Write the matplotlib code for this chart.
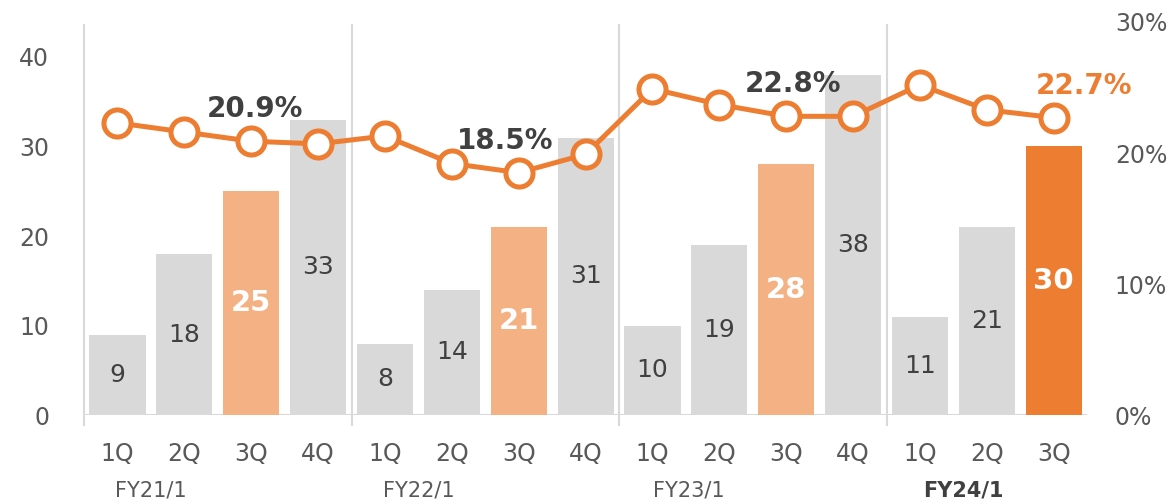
import matplotlib
matplotlib.use("Agg")
import matplotlib.pyplot as plt
import numpy as np

# Quarterly values (bars, left axis) and margin (line, right axis, %)
quarters = ["1Q", "2Q", "3Q", "4Q", "1Q", "2Q", "3Q", "4Q",
            "1Q", "2Q", "3Q", "4Q", "1Q", "2Q", "3Q"]
fiscal_years = ["FY21/1", "FY22/1", "FY23/1", "FY24/1"]
bar_values = [9, 18, 25, 33, 8, 14, 21, 31, 10, 19, 28, 38, 11, 21, 30]
margin_pct = [22.3, 21.6, 20.9, 20.7, 21.3, 19.2, 18.5, 19.9,
              24.9, 23.7, 22.8, 22.8, 25.2, 23.3, 22.7]
labeled_idx = [2, 6, 10, 14]
label_shift = [0.05, -0.2, 0.1, 0.45]
left_ticks = [0, 10, 20, 30, 40]
right_ticks = [0, 10, 20, 30]

GRAY = "#D9D9D9"
LIGHT_ORANGE = "#F4B183"
ORANGE = "#ED7D31"
TEXT = "#595959"
DARK = "#404040"
SEP = "#D9D9D9"

plt.rcParams["font.family"] = ["DejaVu Sans"]

fig = plt.figure(figsize=(11.74, 4.99), dpi=100)
ax = fig.add_axes([0.0716, 0.168, 0.8544, 0.788])
ax2 = ax.twinx()

x = np.arange(len(bar_values))
colors = []
for i in range(len(bar_values)):
    if i == len(bar_values) - 1:
        colors.append(ORANGE)
    elif i in labeled_idx:
        colors.append(LIGHT_ORANGE)
    else:
        colors.append(GRAY)

ax.bar(x, bar_values, width=0.84, color=colors, zorder=2)
ax.set_xlim(-0.5, len(bar_values) - 0.5)
ax.set_ylim(0, 43.9)
ax.set_yticks(left_ticks)
ax.set_yticklabels([str(t) for t in left_ticks])

# value labels inside bars
for i, v in enumerate(bar_values):
    if i in labeled_idx:
        ax.text(i, v / 2, str(v), ha="center", va="center", fontsize=21,
                fontweight="bold", color="white", zorder=3)
    else:
        ax.text(i, v / 2, str(v), ha="center", va="center", fontsize=18,
                color=DARK, zorder=3)

# margin line
ax2.plot(x, margin_pct, color=ORANGE, lw=3.6, marker="o", markersize=19.5,
         markerfacecolor="white", markeredgecolor=ORANGE, markeredgewidth=3.6,
         zorder=5, clip_on=False)
ax2.set_ylim(0, 30)
ax2.set_yticks(right_ticks)
ax2.set_yticklabels([f"{t}%" for t in right_ticks])

for k, i in enumerate(labeled_idx):
    col = ORANGE if i == len(bar_values) - 1 else DARK
    ax2.annotate(f"{margin_pct[i]:.1f}%", (i + label_shift[k], margin_pct[i]),
                 xytext=(0, 23), textcoords="offset points",
                 ha="center", va="center", fontsize=20, fontweight="bold",
                 color=col, zorder=6)

# styling of axes
for a in (ax, ax2):
    for s in ("top", "left", "right", "bottom"):
        a.spines[s].set_visible(False)
    a.tick_params(axis="y", length=0, labelsize=17, labelcolor=TEXT)
ax.tick_params(axis="y", pad=25)
ax2.tick_params(axis="y", pad=20)

ax.axhline(0, color=SEP, lw=1.5, zorder=1)
ax.set_xticks(x)
ax.set_xticklabels(quarters)
ax.tick_params(axis="x", length=0, labelsize=17, labelcolor=TEXT, pad=19)

# year separators
for b in [-0.5, 3.5, 7.5, 11.5]:
    ax.plot([b, b], [-1.1, 43.6], color=SEP, lw=1.5, zorder=1, clip_on=False)

# fiscal year labels
for k, fy in enumerate(fiscal_years):
    xpos = 4 * k + 0.5 + (0.05 if k == 2 else 0) + (0.15 if k == 3 else 0)
    ax.text(xpos, -8.4, fy, ha="center", va="center", fontsize=15,
            color=TEXT if k < 3 else DARK,
            fontweight="bold" if k == 3 else "normal")

fig.savefig("out.png", dpi=100)
